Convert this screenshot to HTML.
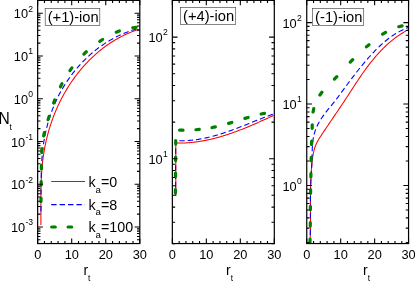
<!DOCTYPE html><html><head><meta charset="utf-8"><style>
html,body{margin:0;padding:0;background:#fff}body{width:415px;height:283px;position:relative;overflow:hidden;font-family:"Liberation Sans",sans-serif;color:#000}
.t{position:absolute;white-space:nowrap;line-height:1;font-size:14px}
.s{font-size:9px;position:relative}
</style></head><body>
<svg width="415" height="283" viewBox="0 0 415 283" style="position:absolute;left:0;top:0">
<rect width="415" height="283" fill="#fff"/>
<path d="M40.87,224.89 L40.88,223.41 L40.89,221.92 L40.90,220.44 L40.90,218.96 L40.90,217.47 L40.90,215.98 L40.90,214.50 L40.90,213.01 L40.89,211.52 L40.89,210.03 L40.89,208.54 L40.88,207.05 L40.88,205.56 L40.88,204.06 L40.88,202.57 L40.88,201.08 L40.88,199.59 L40.89,198.09 L40.89,196.60 L40.90,195.11 L40.92,193.61 L40.94,192.12 L40.96,190.63 L40.98,189.13 L41.01,187.64 L41.05,186.15 L41.09,184.66 L41.14,183.17 L41.19,181.68 L41.25,180.19 L41.31,178.70 L41.38,177.21 L41.46,175.72 L41.55,174.23 L41.64,172.75 L41.75,171.26 L41.86,169.78 L41.98,168.30 L42.11,166.82 L42.25,165.34 L42.39,163.86 L42.55,162.38 L42.72,160.91 L42.90,159.43 L43.10,157.96 L43.30,156.49 L43.51,155.02 L43.74,153.55 L43.97,152.09 L44.22,150.63 L44.47,149.16 L44.74,147.71 L45.02,146.25 L45.31,144.79 L45.62,143.34 L45.93,141.89 L46.26,140.45 L46.59,139.00 L46.94,137.56 L47.30,136.12 L47.67,134.68 L48.05,133.25 L48.45,131.82 L48.86,130.39 L49.27,128.97 L49.70,127.55 L50.15,126.13 L50.60,124.71 L51.07,123.30 L51.54,121.89 L52.03,120.49 L52.54,119.09 L53.05,117.69 L53.58,116.30 L54.12,114.91 L54.67,113.52 L55.23,112.14 L55.81,110.76 L56.40,109.39 L57.00,108.02 L57.61,106.65 L58.24,105.29 L58.88,103.93 L59.53,102.58 L60.19,101.24 L60.86,99.90 L61.55,98.56 L62.25,97.23 L62.96,95.91 L63.68,94.59 L64.42,93.28 L65.16,91.98 L65.92,90.68 L66.69,89.39 L67.47,88.11 L68.27,86.83 L69.07,85.56 L69.89,84.30 L70.72,83.05 L71.55,81.80 L72.40,80.57 L73.27,79.34 L74.14,78.12 L75.02,76.90 L75.92,75.70 L76.83,74.51 L77.74,73.32 L78.67,72.15 L79.61,70.98 L80.56,69.83 L81.53,68.68 L82.50,67.55 L83.48,66.43 L84.48,65.31 L85.48,64.21 L86.50,63.12 L87.52,62.04 L88.56,60.97 L89.61,59.91 L90.66,58.86 L91.73,57.83 L92.81,56.80 L93.90,55.79 L95.00,54.80 L96.10,53.81 L97.22,52.84 L98.35,51.88 L99.49,50.93 L100.64,50.00 L101.80,49.08 L102.97,48.18 L104.15,47.29 L105.34,46.41 L106.54,45.55 L107.74,44.70 L108.96,43.86 L110.19,43.05 L111.43,42.24 L112.67,41.45 L113.93,40.68 L115.19,39.92 L116.47,39.18 L117.75,38.46 L119.05,37.75 L120.35,37.06 L121.66,36.38 L122.98,35.72 L124.31,35.08 L125.65,34.45 L127.00,33.84 L128.35,33.25 L129.72,32.68 L131.09,32.12 L132.48,31.59 L133.87,31.07 L135.27,30.57 L136.68,30.09 L138.10,29.62 L139.52,29.18" fill="none" stroke="#ff0000" stroke-width="1.05"/>
<path d="M40.93,211.37 L40.96,209.96 L40.98,208.54 L41.00,207.12 L41.02,205.71 L41.03,204.28 L41.04,202.86 L41.05,201.44 L41.05,200.01 L41.06,198.59 L41.06,197.16 L41.06,195.73 L41.06,194.30 L41.07,192.88 L41.07,191.45 L41.07,190.01 L41.07,188.58 L41.08,187.15 L41.09,185.72 L41.09,184.29 L41.10,182.85 L41.12,181.42 L41.13,179.99 L41.15,178.56 L41.17,177.12 L41.20,175.69 L41.23,174.26 L41.27,172.82 L41.31,171.39 L41.35,169.96 L41.40,168.53 L41.46,167.10 L41.52,165.67 L41.59,164.24 L41.67,162.81 L41.75,161.38 L41.84,159.96 L41.94,158.53 L42.05,157.11 L42.17,155.68 L42.29,154.26 L42.43,152.84 L42.57,151.42 L42.72,150.00 L42.89,148.58 L43.06,147.17 L43.25,145.75 L43.44,144.34 L43.65,142.93 L43.87,141.52 L44.11,140.12 L44.35,138.71 L44.61,137.31 L44.87,135.91 L45.15,134.51 L45.45,133.12 L45.75,131.73 L46.07,130.34 L46.40,128.95 L46.74,127.57 L47.09,126.19 L47.46,124.81 L47.84,123.44 L48.23,122.07 L48.63,120.70 L49.04,119.34 L49.47,117.98 L49.91,116.63 L50.36,115.28 L50.83,113.93 L51.30,112.59 L51.79,111.25 L52.29,109.92 L52.81,108.59 L53.34,107.27 L53.88,105.95 L54.43,104.64 L54.99,103.33 L55.57,102.03 L56.16,100.73 L56.76,99.44 L57.38,98.16 L58.01,96.88 L58.65,95.60 L59.30,94.34 L59.97,93.07 L60.65,91.82 L61.34,90.57 L62.05,89.33 L62.77,88.09 L63.50,86.86 L64.24,85.64 L65.00,84.43 L65.77,83.22 L66.55,82.02 L67.35,80.82 L68.16,79.64 L68.98,78.46 L69.81,77.29 L70.66,76.13 L71.52,74.98 L72.38,73.83 L73.27,72.70 L74.16,71.57 L75.06,70.46 L75.98,69.35 L76.91,68.25 L77.85,67.16 L78.80,66.08 L79.76,65.01 L80.73,63.95 L81.71,62.91 L82.71,61.87 L83.71,60.84 L84.73,59.82 L85.75,58.82 L86.79,57.82 L87.84,56.84 L88.89,55.87 L89.96,54.91 L91.04,53.96 L92.12,53.03 L93.22,52.11 L94.33,51.20 L95.44,50.30 L96.57,49.41 L97.70,48.54 L98.85,47.68 L100.00,46.84 L101.16,46.00 L102.33,45.19 L103.51,44.38 L104.70,43.59 L105.90,42.81 L107.10,42.05 L108.32,41.30 L109.54,40.57 L110.77,39.85 L112.01,39.15 L113.25,38.46 L114.51,37.79 L115.77,37.14 L117.04,36.49 L118.32,35.87 L119.60,35.26 L120.89,34.67 L122.19,34.09 L123.50,33.53 L124.81,32.99 L126.13,32.47 L127.46,31.96 L128.80,31.47 L130.14,30.99 L131.48,30.54 L132.84,30.10 L134.20,29.68 L135.56,29.28 L136.93,28.90 L138.31,28.53 L139.70,28.18" fill="none" stroke="#0000ff" stroke-width="1.1" stroke-dasharray="5.4 3.0"/>
<path d="M40.99,201.40 L41.01,198.00 M41.18,184.90 L41.22,181.50 M41.39,168.80 L41.41,165.40 M41.69,152.30 L41.91,148.90 M43.64,135.96 L44.36,132.64 M48.08,119.62 L49.12,116.38 M53.61,103.09 L54.79,99.91 M60.43,86.82 L61.97,83.78 M69.91,70.58 L71.89,67.82 M83.86,54.06 L86.34,51.74 M99.78,41.33 L102.62,39.47 M116.22,32.22 L119.38,30.98 M132.71,27.74 L136.09,27.46" fill="none" stroke="#008000" stroke-width="3.2" stroke-linecap="round"/>
<path d="M175.8,195.8 L175.80,143.05 L176.46,143.06 L177.12,143.07 L177.78,143.08 L178.44,143.08 L179.10,143.09 L179.75,143.08 L180.41,143.08 L181.07,143.07 L181.72,143.05 L182.37,143.04 L183.03,143.02 L183.68,143.00 L184.33,142.97 L184.98,142.94 L185.63,142.91 L186.28,142.87 L186.93,142.83 L187.58,142.79 L188.23,142.74 L188.87,142.69 L189.52,142.64 L190.16,142.59 L190.81,142.53 L191.45,142.47 L192.10,142.40 L192.74,142.34 L193.38,142.26 L194.02,142.19 L194.66,142.12 L195.30,142.04 L195.94,141.95 L196.58,141.87 L197.22,141.78 L197.86,141.69 L198.49,141.60 L199.13,141.50 L199.77,141.40 L200.40,141.30 L201.04,141.19 L201.67,141.09 L202.30,140.98 L202.94,140.86 L203.57,140.75 L204.20,140.63 L204.83,140.51 L205.46,140.39 L206.09,140.26 L206.72,140.13 L207.35,140.00 L207.97,139.87 L208.60,139.73 L209.23,139.60 L209.85,139.46 L210.48,139.31 L211.10,139.17 L211.73,139.02 L212.35,138.87 L212.98,138.72 L213.60,138.56 L214.22,138.41 L214.84,138.25 L215.46,138.09 L216.08,137.92 L216.70,137.76 L217.32,137.59 L217.94,137.42 L218.56,137.25 L219.18,137.07 L219.79,136.90 L220.41,136.72 L221.03,136.54 L221.64,136.36 L222.26,136.17 L222.87,135.99 L223.48,135.80 L224.10,135.61 L224.71,135.42 L225.32,135.23 L225.94,135.03 L226.55,134.83 L227.16,134.63 L227.77,134.43 L228.38,134.23 L228.99,134.03 L229.60,133.82 L230.20,133.61 L230.81,133.40 L231.42,133.19 L232.03,132.98 L232.63,132.77 L233.24,132.55 L233.85,132.33 L234.45,132.12 L235.06,131.90 L235.66,131.67 L236.26,131.45 L236.87,131.23 L237.47,131.00 L238.07,130.77 L238.67,130.55 L239.28,130.32 L239.88,130.08 L240.48,129.85 L241.08,129.62 L241.68,129.38 L242.28,129.15 L242.88,128.91 L243.47,128.67 L244.07,128.43 L244.67,128.19 L245.27,127.95 L245.86,127.71 L246.46,127.46 L247.06,127.22 L247.65,126.97 L248.25,126.72 L248.84,126.47 L249.44,126.23 L250.03,125.98 L250.63,125.72 L251.22,125.47 L251.81,125.22 L252.40,124.97 L253.00,124.71 L253.59,124.46 L254.18,124.20 L254.77,123.94 L255.36,123.69 L255.95,123.43 L256.54,123.17 L257.13,122.91 L257.72,122.65 L258.31,122.39 L258.90,122.13 L259.49,121.87 L260.08,121.60 L260.66,121.34 L261.25,121.08 L261.84,120.81 L262.42,120.55 L263.01,120.29 L263.60,120.02 L264.18,119.75 L264.77,119.49 L265.35,119.22 L265.94,118.96 L266.52,118.69 L267.11,118.42 L267.69,118.15 L268.27,117.89 L268.86,117.62 L269.44,117.35 L270.02,117.08 L270.60,116.81 L271.19,116.55 L271.77,116.28 L272.35,116.01 L272.93,115.74 L273.51,115.47" fill="none" stroke="#ff0000" stroke-width="1.05"/>
<path d="M175.6,195.8 L175.68,140.66 L176.34,140.69 L177.01,140.71 L177.67,140.74 L178.33,140.75 L178.99,140.77 L179.65,140.77 L180.31,140.78 L180.97,140.78 L181.63,140.78 L182.28,140.77 L182.94,140.76 L183.59,140.74 L184.24,140.72 L184.90,140.70 L185.55,140.67 L186.20,140.64 L186.85,140.60 L187.49,140.56 L188.14,140.52 L188.79,140.47 L189.43,140.42 L190.08,140.36 L190.72,140.31 L191.36,140.24 L192.01,140.18 L192.65,140.11 L193.29,140.04 L193.93,139.96 L194.56,139.88 L195.20,139.80 L195.84,139.71 L196.48,139.62 L197.11,139.53 L197.74,139.44 L198.38,139.34 L199.01,139.23 L199.64,139.13 L200.27,139.02 L200.90,138.91 L201.53,138.79 L202.16,138.68 L202.79,138.55 L203.42,138.43 L204.05,138.30 L204.67,138.18 L205.30,138.04 L205.92,137.91 L206.55,137.77 L207.17,137.63 L207.79,137.49 L208.41,137.34 L209.03,137.19 L209.66,137.04 L210.28,136.89 L210.90,136.73 L211.51,136.57 L212.13,136.41 L212.75,136.25 L213.37,136.09 L213.98,135.92 L214.60,135.75 L215.21,135.58 L215.83,135.40 L216.44,135.22 L217.06,135.05 L217.67,134.87 L218.28,134.68 L218.90,134.50 L219.51,134.31 L220.12,134.12 L220.73,133.93 L221.34,133.74 L221.95,133.54 L222.56,133.35 L223.17,133.15 L223.77,132.95 L224.38,132.75 L224.99,132.55 L225.60,132.34 L226.20,132.14 L226.81,131.93 L227.42,131.72 L228.02,131.51 L228.63,131.30 L229.23,131.08 L229.84,130.87 L230.44,130.65 L231.04,130.43 L231.65,130.21 L232.25,129.99 L232.85,129.77 L233.46,129.55 L234.06,129.33 L234.66,129.10 L235.26,128.88 L235.86,128.65 L236.46,128.42 L237.06,128.20 L237.66,127.97 L238.26,127.74 L238.86,127.50 L239.46,127.27 L240.06,127.04 L240.66,126.81 L241.26,126.57 L241.86,126.34 L242.46,126.10 L243.06,125.87 L243.66,125.63 L244.26,125.40 L244.85,125.16 L245.45,124.92 L246.05,124.68 L246.65,124.45 L247.25,124.21 L247.84,123.97 L248.44,123.73 L249.04,123.49 L249.64,123.25 L250.23,123.01 L250.83,122.77 L251.43,122.53 L252.02,122.29 L252.62,122.05 L253.22,121.81 L253.82,121.57 L254.41,121.33 L255.01,121.09 L255.61,120.86 L256.20,120.62 L256.80,120.38 L257.40,120.14 L258.00,119.90 L258.59,119.67 L259.19,119.43 L259.79,119.19 L260.38,118.96 L260.98,118.72 L261.58,118.49 L262.18,118.25 L262.78,118.02 L263.37,117.78 L263.97,117.55 L264.57,117.32 L265.17,117.09 L265.77,116.86 L266.37,116.63 L266.96,116.40 L267.56,116.18 L268.16,115.95 L268.76,115.72 L269.36,115.50 L269.96,115.28 L270.56,115.06 L271.16,114.83 L271.76,114.61 L272.36,114.40 L272.96,114.18 L273.57,113.96" fill="none" stroke="#0000ff" stroke-width="1.1" stroke-dasharray="5.4 3.0"/>
<path d="M175.39,193.00 L175.41,189.60 M175.49,176.40 L175.51,173.00 M175.59,160.40 L175.61,157.00 M175.69,143.90 L175.71,140.50 M179.60,130.05 L183.00,130.15 M195.91,129.75 L199.29,129.45 M212.04,127.55 L215.36,126.85 M228.57,123.39 L231.83,122.41 M244.87,118.39 L248.13,117.41 M261.13,114.04 L264.47,113.36" fill="none" stroke="#008000" stroke-width="3.2" stroke-linecap="round"/>
<clipPath id="c3"><rect x="306.75" y="0.35" width="101.8" height="243.2"/></clipPath>
<g clip-path="url(#c3)"><path d="M309.92,243.49 L310.01,241.93 L310.09,240.38 L310.16,238.82 L310.22,237.26 L310.28,235.70 L310.33,234.14 L310.37,232.58 L310.40,231.02 L310.43,229.45 L310.46,227.89 L310.48,226.33 L310.49,224.77 L310.51,223.20 L310.51,221.64 L310.52,220.07 L310.52,218.51 L310.52,216.94 L310.51,215.38 L310.51,213.81 L310.50,212.24 L310.49,210.68 L310.49,209.11 L310.48,207.55 L310.47,205.98 L310.46,204.41 L310.46,202.85 L310.45,201.28 L310.45,199.71 L310.45,198.15 L310.46,196.58 L310.46,195.01 L310.47,193.45 L310.49,191.88 L310.51,190.32 L310.53,188.75 L310.56,187.19 L310.59,185.62 L310.63,184.06 L310.68,182.50 L310.73,180.94 L310.80,179.37 L310.86,177.81 L310.94,176.25 L311.03,174.69 L311.12,173.13 L311.23,171.57 L311.34,170.01 L311.47,168.46 L311.60,166.90 L311.75,165.34 L311.90,163.79 L312.07,162.24 L312.25,160.68 L312.45,159.13 L312.66,157.58 L312.89,156.04 L313.15,154.50 L313.44,152.97 L313.77,151.45 L314.14,149.95 L314.56,148.46 L315.04,146.99 L315.58,145.54 L316.18,144.11 L316.85,142.70 L317.57,141.32 L318.34,139.95 L319.15,138.60 L319.99,137.26 L320.85,135.93 L321.72,134.60 L322.60,133.28 L323.48,131.97 L324.36,130.65 L325.24,129.35 L326.12,128.04 L327.00,126.74 L327.88,125.44 L328.76,124.14 L329.64,122.84 L330.52,121.55 L331.40,120.26 L332.28,118.96 L333.16,117.67 L334.04,116.38 L334.92,115.09 L335.79,113.81 L336.67,112.52 L337.54,111.23 L338.42,109.94 L339.29,108.65 L340.16,107.36 L341.03,106.07 L341.89,104.77 L342.76,103.48 L343.62,102.18 L344.48,100.88 L345.34,99.58 L346.19,98.28 L347.04,96.97 L347.89,95.67 L348.74,94.36 L349.59,93.05 L350.44,91.74 L351.29,90.43 L352.14,89.12 L352.99,87.81 L353.84,86.50 L354.70,85.19 L355.55,83.88 L356.41,82.58 L357.28,81.27 L358.14,79.97 L359.01,78.67 L359.89,77.38 L360.77,76.09 L361.66,74.80 L362.55,73.51 L363.45,72.24 L364.36,70.96 L365.27,69.69 L366.19,68.43 L367.12,67.17 L368.06,65.91 L369.01,64.67 L369.96,63.43 L370.93,62.20 L371.91,60.97 L372.90,59.76 L373.89,58.55 L374.90,57.35 L375.92,56.17 L376.96,54.99 L378.00,53.82 L379.05,52.67 L380.12,51.52 L381.20,50.39 L382.29,49.27 L383.39,48.17 L384.51,47.08 L385.63,46.00 L386.78,44.94 L387.93,43.89 L389.10,42.86 L390.28,41.84 L391.48,40.84 L392.69,39.86 L393.92,38.90 L395.16,37.95 L396.42,37.02 L397.69,36.11 L398.97,35.22 L400.28,34.36 L401.59,33.51 L402.93,32.68 L404.28,31.88 L405.65,31.09 L407.03,30.33 L408.43,29.59" fill="none" stroke="#ff0000" stroke-width="1.05"/>
<path d="M309.98,243.50 L310.04,241.90 L310.10,240.31 L310.15,238.71 L310.19,237.12 L310.23,235.52 L310.26,233.92 L310.29,232.33 L310.32,230.73 L310.34,229.13 L310.35,227.52 L310.37,225.92 L310.37,224.32 L310.38,222.72 L310.39,221.12 L310.39,219.51 L310.39,217.91 L310.39,216.31 L310.39,214.70 L310.39,213.10 L310.39,211.49 L310.40,209.89 L310.40,208.29 L310.40,206.68 L310.40,205.08 L310.41,203.47 L310.42,201.87 L310.43,200.27 L310.45,198.67 L310.47,197.07 L310.49,195.47 L310.52,193.87 L310.55,192.27 L310.59,190.67 L310.63,189.07 L310.68,187.47 L310.73,185.88 L310.79,184.28 L310.86,182.69 L310.93,181.10 L311.01,179.51 L311.09,177.92 L311.18,176.32 L311.26,174.73 L311.35,173.14 L311.44,171.55 L311.52,169.95 L311.61,168.36 L311.69,166.76 L311.76,165.16 L311.83,163.56 L311.90,161.96 L311.96,160.35 L312.01,158.74 L312.06,157.13 L312.09,155.52 L312.13,153.91 L312.16,152.29 L312.21,150.68 L312.26,149.07 L312.33,147.46 L312.42,145.86 L312.54,144.26 L312.68,142.68 L312.86,141.10 L313.07,139.53 L313.32,137.97 L313.62,136.42 L313.98,134.89 L314.38,133.38 L314.84,131.88 L315.34,130.39 L315.90,128.92 L316.50,127.46 L317.15,126.02 L317.84,124.60 L318.57,123.19 L319.34,121.80 L320.15,120.42 L320.99,119.06 L321.87,117.72 L322.79,116.39 L323.73,115.08 L324.69,113.78 L325.68,112.49 L326.69,111.21 L327.71,109.94 L328.73,108.68 L329.77,107.42 L330.80,106.16 L331.83,104.91 L332.86,103.65 L333.87,102.39 L334.87,101.13 L335.86,99.86 L336.83,98.59 L337.79,97.31 L338.74,96.03 L339.69,94.75 L340.63,93.47 L341.57,92.19 L342.51,90.90 L343.45,89.62 L344.40,88.34 L345.34,87.05 L346.29,85.77 L347.24,84.49 L348.19,83.21 L349.15,81.93 L350.10,80.65 L351.06,79.38 L352.02,78.11 L352.99,76.83 L353.96,75.57 L354.94,74.30 L355.92,73.04 L356.90,71.78 L357.89,70.52 L358.88,69.27 L359.89,68.02 L360.89,66.78 L361.90,65.54 L362.92,64.30 L363.95,63.07 L364.98,61.85 L366.02,60.63 L367.07,59.41 L368.13,58.20 L369.19,57.00 L370.26,55.81 L371.35,54.62 L372.44,53.44 L373.54,52.27 L374.65,51.11 L375.77,49.96 L376.90,48.82 L378.05,47.70 L379.20,46.59 L380.37,45.49 L381.55,44.41 L382.75,43.35 L383.95,42.30 L385.17,41.27 L386.41,40.26 L387.66,39.27 L388.92,38.30 L390.20,37.35 L391.50,36.42 L392.81,35.52 L394.14,34.64 L395.48,33.78 L396.85,32.96 L398.23,32.16 L399.62,31.38 L401.04,30.64 L402.48,29.92 L403.93,29.23 L405.41,28.58 L406.90,27.96 L408.42,27.37" fill="none" stroke="#0000ff" stroke-width="1.1" stroke-dasharray="5.4 3.0"/>
<path d="M309.95,242.50 L310.05,239.10 M310.29,226.10 L310.31,222.70 M310.39,209.70 L310.41,206.30 M310.57,193.30 L310.63,189.90 M310.87,177.00 L310.93,173.60 M311.17,160.80 L311.23,157.40 M311.54,144.40 L311.66,141.00 M312.16,128.30 L312.24,124.90 M313.05,111.96 L313.75,108.64 M319.91,94.98 L321.89,92.22 M334.40,79.11 L336.80,76.69 M350.32,62.12 L352.68,59.68 M366.41,46.91 L368.99,44.69 M382.65,34.19 L385.55,32.41 M398.75,26.70 L402.05,25.90" fill="none" stroke="#008000" stroke-width="3.2" stroke-linecap="round"/></g>
<path d="M51.2,181.4 L85,181.4" fill="none" stroke="#ff0000" stroke-width="1.05"/>
<path d="M51.2,204.6 L85,204.6" fill="none" stroke="#0000ff" stroke-width="1.1" stroke-dasharray="5.4 3.0"/>
<path d="M51.7,227 L55.3,227 M68.1,227 L71.7,227" fill="none" stroke="#008000" stroke-width="3.2" stroke-linecap="round"/>
<path d="M37.65,243.55 V238.55 M37.65,0.35 V5.35 M44.46,243.55 V240.95000000000002 M44.46,0.35 V2.95 M51.27,243.55 V240.95000000000002 M51.27,0.35 V2.95 M58.08,243.55 V240.95000000000002 M58.08,0.35 V2.95 M64.89,243.55 V240.95000000000002 M64.89,0.35 V2.95 M71.70,243.55 V238.55 M71.70,0.35 V5.35 M78.51,243.55 V240.95000000000002 M78.51,0.35 V2.95 M85.32,243.55 V240.95000000000002 M85.32,0.35 V2.95 M92.13,243.55 V240.95000000000002 M92.13,0.35 V2.95 M98.94,243.55 V240.95000000000002 M98.94,0.35 V2.95 M105.75,243.55 V238.55 M105.75,0.35 V5.35 M112.56,243.55 V240.95000000000002 M112.56,0.35 V2.95 M119.37,243.55 V240.95000000000002 M119.37,0.35 V2.95 M126.18,243.55 V240.95000000000002 M126.18,0.35 V2.95 M132.99,243.55 V240.95000000000002 M132.99,0.35 V2.95 M139.80,243.55 V238.55 M139.80,0.35 V5.35 M37.65,13.20 h5.2 M139.8,13.20 h-5.2 M37.65,0.33 h2.8 M139.8,0.33 h-2.8 M37.65,55.95 h5.2 M139.8,55.95 h-5.2 M37.65,43.08 h2.8 M139.8,43.08 h-2.8 M37.65,35.55 h2.8 M139.8,35.55 h-2.8 M37.65,30.21 h2.8 M139.8,30.21 h-2.8 M37.65,26.07 h2.8 M139.8,26.07 h-2.8 M37.65,22.68 h2.8 M139.8,22.68 h-2.8 M37.65,19.82 h2.8 M139.8,19.82 h-2.8 M37.65,17.34 h2.8 M139.8,17.34 h-2.8 M37.65,15.16 h2.8 M139.8,15.16 h-2.8 M37.65,98.70 h5.2 M139.8,98.70 h-5.2 M37.65,85.83 h2.8 M139.8,85.83 h-2.8 M37.65,78.30 h2.8 M139.8,78.30 h-2.8 M37.65,72.96 h2.8 M139.8,72.96 h-2.8 M37.65,68.82 h2.8 M139.8,68.82 h-2.8 M37.65,65.43 h2.8 M139.8,65.43 h-2.8 M37.65,62.57 h2.8 M139.8,62.57 h-2.8 M37.65,60.09 h2.8 M139.8,60.09 h-2.8 M37.65,57.91 h2.8 M139.8,57.91 h-2.8 M37.65,141.45 h5.2 M139.8,141.45 h-5.2 M37.65,128.58 h2.8 M139.8,128.58 h-2.8 M37.65,121.05 h2.8 M139.8,121.05 h-2.8 M37.65,115.71 h2.8 M139.8,115.71 h-2.8 M37.65,111.57 h2.8 M139.8,111.57 h-2.8 M37.65,108.18 h2.8 M139.8,108.18 h-2.8 M37.65,105.32 h2.8 M139.8,105.32 h-2.8 M37.65,102.84 h2.8 M139.8,102.84 h-2.8 M37.65,100.66 h2.8 M139.8,100.66 h-2.8 M37.65,184.20 h5.2 M139.8,184.20 h-5.2 M37.65,171.33 h2.8 M139.8,171.33 h-2.8 M37.65,163.80 h2.8 M139.8,163.80 h-2.8 M37.65,158.46 h2.8 M139.8,158.46 h-2.8 M37.65,154.32 h2.8 M139.8,154.32 h-2.8 M37.65,150.93 h2.8 M139.8,150.93 h-2.8 M37.65,148.07 h2.8 M139.8,148.07 h-2.8 M37.65,145.59 h2.8 M139.8,145.59 h-2.8 M37.65,143.41 h2.8 M139.8,143.41 h-2.8 M37.65,226.95 h5.2 M139.8,226.95 h-5.2 M37.65,214.08 h2.8 M139.8,214.08 h-2.8 M37.65,206.55 h2.8 M139.8,206.55 h-2.8 M37.65,201.21 h2.8 M139.8,201.21 h-2.8 M37.65,197.07 h2.8 M139.8,197.07 h-2.8 M37.65,193.68 h2.8 M139.8,193.68 h-2.8 M37.65,190.82 h2.8 M139.8,190.82 h-2.8 M37.65,188.34 h2.8 M139.8,188.34 h-2.8 M37.65,186.16 h2.8 M139.8,186.16 h-2.8 M37.65,239.82 h2.8 M139.8,239.82 h-2.8 M37.65,236.43 h2.8 M139.8,236.43 h-2.8 M37.65,233.57 h2.8 M139.8,233.57 h-2.8 M37.65,231.09 h2.8 M139.8,231.09 h-2.8 M37.65,228.91 h2.8 M139.8,228.91 h-2.8 M172.35,243.55 V238.55 M172.35,0.35 V5.35 M179.15,243.55 V240.95000000000002 M179.15,0.35 V2.95 M185.94,243.55 V240.95000000000002 M185.94,0.35 V2.95 M192.74,243.55 V240.95000000000002 M192.74,0.35 V2.95 M199.54,243.55 V240.95000000000002 M199.54,0.35 V2.95 M206.33,243.55 V238.55 M206.33,0.35 V5.35 M213.13,243.55 V240.95000000000002 M213.13,0.35 V2.95 M219.93,243.55 V240.95000000000002 M219.93,0.35 V2.95 M226.72,243.55 V240.95000000000002 M226.72,0.35 V2.95 M233.52,243.55 V240.95000000000002 M233.52,0.35 V2.95 M240.32,243.55 V238.55 M240.32,0.35 V5.35 M247.11,243.55 V240.95000000000002 M247.11,0.35 V2.95 M253.91,243.55 V240.95000000000002 M253.91,0.35 V2.95 M260.71,243.55 V240.95000000000002 M260.71,0.35 V2.95 M267.50,243.55 V240.95000000000002 M267.50,0.35 V2.95 M274.30,243.55 V238.55 M274.30,0.35 V5.35 M172.35,37.10 h5.2 M274.3,37.10 h-5.2 M172.35,0.49 h2.8 M274.3,0.49 h-2.8 M172.35,158.70 h5.2 M274.3,158.70 h-5.2 M172.35,122.09 h2.8 M274.3,122.09 h-2.8 M172.35,100.68 h2.8 M274.3,100.68 h-2.8 M172.35,85.49 h2.8 M274.3,85.49 h-2.8 M172.35,73.71 h2.8 M274.3,73.71 h-2.8 M172.35,64.08 h2.8 M274.3,64.08 h-2.8 M172.35,55.94 h2.8 M274.3,55.94 h-2.8 M172.35,48.88 h2.8 M274.3,48.88 h-2.8 M172.35,42.66 h2.8 M274.3,42.66 h-2.8 M172.35,243.69 h2.8 M274.3,243.69 h-2.8 M172.35,222.28 h2.8 M274.3,222.28 h-2.8 M172.35,207.09 h2.8 M274.3,207.09 h-2.8 M172.35,195.31 h2.8 M274.3,195.31 h-2.8 M172.35,185.68 h2.8 M274.3,185.68 h-2.8 M172.35,177.54 h2.8 M274.3,177.54 h-2.8 M172.35,170.48 h2.8 M274.3,170.48 h-2.8 M172.35,164.26 h2.8 M274.3,164.26 h-2.8 M306.75,243.55 V238.55 M306.75,0.35 V5.35 M313.54,243.55 V240.95000000000002 M313.54,0.35 V2.95 M320.32,243.55 V240.95000000000002 M320.32,0.35 V2.95 M327.11,243.55 V240.95000000000002 M327.11,0.35 V2.95 M333.90,243.55 V240.95000000000002 M333.90,0.35 V2.95 M340.68,243.55 V238.55 M340.68,0.35 V5.35 M347.47,243.55 V240.95000000000002 M347.47,0.35 V2.95 M354.26,243.55 V240.95000000000002 M354.26,0.35 V2.95 M361.04,243.55 V240.95000000000002 M361.04,0.35 V2.95 M367.83,243.55 V240.95000000000002 M367.83,0.35 V2.95 M374.62,243.55 V238.55 M374.62,0.35 V5.35 M381.40,243.55 V240.95000000000002 M381.40,0.35 V2.95 M388.19,243.55 V240.95000000000002 M388.19,0.35 V2.95 M394.98,243.55 V240.95000000000002 M394.98,0.35 V2.95 M401.76,243.55 V240.95000000000002 M401.76,0.35 V2.95 M408.55,243.55 V238.55 M408.55,0.35 V5.35 M306.75,22.60 h5.2 M408.55,22.60 h-5.2 M306.75,104.05 h5.2 M408.55,104.05 h-5.2 M306.75,79.53 h2.8 M408.55,79.53 h-2.8 M306.75,65.19 h2.8 M408.55,65.19 h-2.8 M306.75,55.01 h2.8 M408.55,55.01 h-2.8 M306.75,47.12 h2.8 M408.55,47.12 h-2.8 M306.75,40.67 h2.8 M408.55,40.67 h-2.8 M306.75,35.22 h2.8 M408.55,35.22 h-2.8 M306.75,30.49 h2.8 M408.55,30.49 h-2.8 M306.75,26.33 h2.8 M408.55,26.33 h-2.8 M306.75,185.50 h5.2 M408.55,185.50 h-5.2 M306.75,160.98 h2.8 M408.55,160.98 h-2.8 M306.75,146.64 h2.8 M408.55,146.64 h-2.8 M306.75,136.46 h2.8 M408.55,136.46 h-2.8 M306.75,128.57 h2.8 M408.55,128.57 h-2.8 M306.75,122.12 h2.8 M408.55,122.12 h-2.8 M306.75,116.67 h2.8 M408.55,116.67 h-2.8 M306.75,111.94 h2.8 M408.55,111.94 h-2.8 M306.75,107.78 h2.8 M408.55,107.78 h-2.8 M306.75,242.43 h2.8 M408.55,242.43 h-2.8 M306.75,228.09 h2.8 M408.55,228.09 h-2.8 M306.75,217.91 h2.8 M408.55,217.91 h-2.8 M306.75,210.02 h2.8 M408.55,210.02 h-2.8 M306.75,203.57 h2.8 M408.55,203.57 h-2.8 M306.75,198.12 h2.8 M408.55,198.12 h-2.8 M306.75,193.39 h2.8 M408.55,193.39 h-2.8 M306.75,189.23 h2.8 M408.55,189.23 h-2.8" fill="none" stroke="#000" stroke-width="1.1"/>
<rect x="37.65" y="0.35" width="102.15" height="243.20" fill="none" stroke="#000" stroke-width="1.2"/>
<rect x="45.2" y="8.5" width="54.6" height="17.1" fill="#fff" stroke="#444" stroke-width="0.65"/>
<rect x="172.35" y="0.35" width="101.95" height="243.20" fill="none" stroke="#000" stroke-width="1.2"/>
<rect x="180.5" y="7.5" width="55.2" height="17.1" fill="#fff" stroke="#444" stroke-width="0.65"/>
<rect x="306.75" y="0.35" width="101.80" height="243.20" fill="none" stroke="#000" stroke-width="1.2"/>
<rect x="312.6" y="8.5" width="51.1" height="17.1" fill="#fff" stroke="#444" stroke-width="0.65"/>
</svg>
<div style="position:absolute;left:0;top:0;width:415px;height:283px;filter:grayscale(1)">
<div class="t" style="left:47.70px;top:10.19px;font-size:14.7px;">(+1)-ion</div>
<div class="t" style="right:381.90px;top:8.41px;font-size:12.8px;">10<span class="s" style="top:-6.9px;margin-left:0.3px;font-size:8.6px">2</span></div>
<div class="t" style="right:381.90px;top:51.16px;font-size:12.8px;">10<span class="s" style="top:-6.9px;margin-left:0.3px;font-size:8.6px">1</span></div>
<div class="t" style="right:381.90px;top:93.91px;font-size:12.8px;">10<span class="s" style="top:-6.9px;margin-left:0.3px;font-size:8.6px">0</span></div>
<div class="t" style="right:381.90px;top:136.66px;font-size:12.8px;">10<span class="s" style="top:-6.9px;margin-left:0.3px;font-size:8.6px">-1</span></div>
<div class="t" style="right:381.90px;top:179.41px;font-size:12.8px;">10<span class="s" style="top:-6.9px;margin-left:0.3px;font-size:8.6px">-2</span></div>
<div class="t" style="right:381.90px;top:222.16px;font-size:12.8px;">10<span class="s" style="top:-6.9px;margin-left:0.3px;font-size:8.6px">-3</span></div>
<div class="t" style="left:-62.30px;width:200px;text-align:center;top:248.61px;font-size:12.8px;">0</div>
<div class="t" style="left:-28.25px;width:200px;text-align:center;top:248.61px;font-size:12.8px;">10</div>
<div class="t" style="left:5.80px;width:200px;text-align:center;top:248.61px;font-size:12.8px;">20</div>
<div class="t" style="left:39.85px;width:200px;text-align:center;top:248.61px;font-size:12.8px;">30</div>
<div class="t" style="left:83.50px;top:262.79px;font-size:14.0px;">r<span class="s" style="top:6.3px;font-size:8.4px;margin-left:-0.1px">t</span></div>
<div class="t" style="left:183.10px;top:9.19px;font-size:14.7px;">(+4)-ion</div>
<div class="t" style="right:247.20px;top:32.31px;font-size:12.8px;">10<span class="s" style="top:-6.9px;margin-left:0.3px;font-size:8.6px">2</span></div>
<div class="t" style="right:247.20px;top:153.91px;font-size:12.8px;">10<span class="s" style="top:-6.9px;margin-left:0.3px;font-size:8.6px">1</span></div>
<div class="t" style="left:72.40px;width:200px;text-align:center;top:248.61px;font-size:12.8px;">0</div>
<div class="t" style="left:106.38px;width:200px;text-align:center;top:248.61px;font-size:12.8px;">10</div>
<div class="t" style="left:140.37px;width:200px;text-align:center;top:248.61px;font-size:12.8px;">20</div>
<div class="t" style="left:174.35px;width:200px;text-align:center;top:248.61px;font-size:12.8px;">30</div>
<div class="t" style="left:226.10px;top:262.79px;font-size:14.0px;">r<span class="s" style="top:6.3px;font-size:8.4px;margin-left:-0.1px">t</span></div>
<div class="t" style="left:315.10px;top:10.19px;font-size:14.7px;">(-1)-ion</div>
<div class="t" style="right:113.20px;top:17.81px;font-size:12.8px;">10<span class="s" style="top:-6.9px;margin-left:0.3px;font-size:8.6px">2</span></div>
<div class="t" style="right:113.20px;top:99.31px;font-size:12.8px;">10<span class="s" style="top:-6.9px;margin-left:0.3px;font-size:8.6px">1</span></div>
<div class="t" style="right:113.20px;top:180.71px;font-size:12.8px;">10<span class="s" style="top:-6.9px;margin-left:0.3px;font-size:8.6px">0</span></div>
<div class="t" style="left:206.80px;width:200px;text-align:center;top:248.61px;font-size:12.8px;">0</div>
<div class="t" style="left:240.73px;width:200px;text-align:center;top:248.61px;font-size:12.8px;">10</div>
<div class="t" style="left:274.67px;width:200px;text-align:center;top:248.61px;font-size:12.8px;">20</div>
<div class="t" style="left:308.60px;width:200px;text-align:center;top:248.61px;font-size:12.8px;">30</div>
<div class="t" style="left:363.10px;top:262.79px;font-size:14.0px;">r<span class="s" style="top:6.3px;font-size:8.4px;margin-left:-0.1px">t</span></div>
<div class="t" style="left:-1.60px;top:111.22px;font-size:15.6px;">N<span class="s" style="top:5.4px;font-size:8.6px;margin-left:-0.2px">t</span></div>
<div class="t" style="left:88.40px;top:174.93px;font-size:14.3px;">k<span class="s" style="top:5.9px;font-size:9.7px">a</span>=0</div>
<div class="t" style="left:88.40px;top:197.53px;font-size:14.3px;">k<span class="s" style="top:5.9px;font-size:9.7px">a</span>=8</div>
<div class="t" style="left:88.40px;top:220.13px;font-size:14.3px;">k<span class="s" style="top:5.9px;font-size:9.7px">a</span>=100</div>
</div></body></html>
